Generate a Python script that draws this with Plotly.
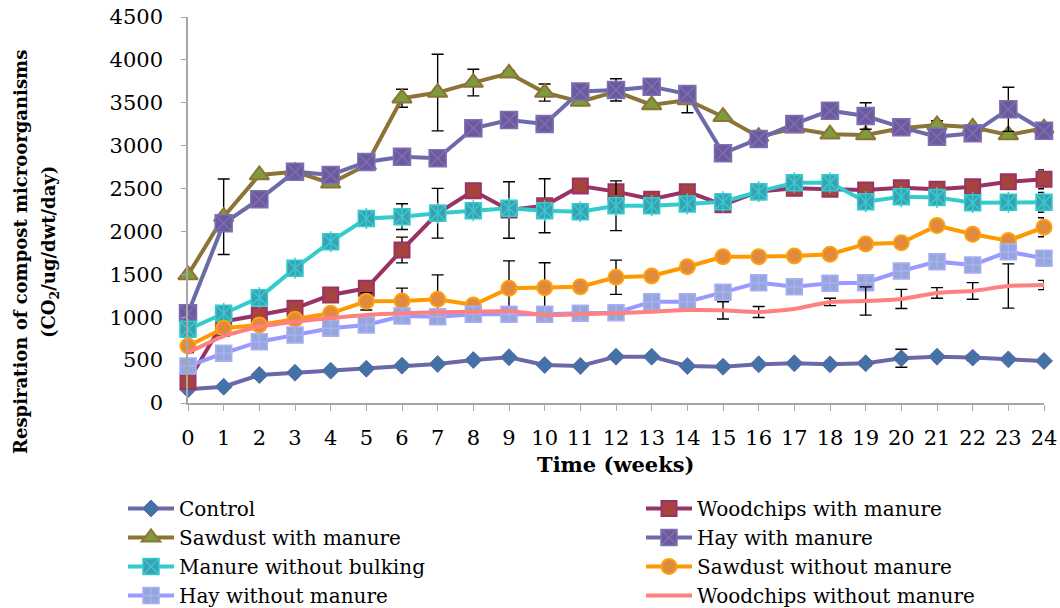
import plotly.graph_objects as go

weeks = list(range(25))
tick_labels = [str(w) for w in weeks]

control = [160, 190, 326, 353, 377, 400, 435, 455, 501, 533, 443, 431, 540, 540, 431, 423, 451, 463, 451, 463, 521, 540, 529, 509, 490]
woodchips_manure = [250, 950, 1026, 1104, 1259, 1337, 1784, 2212, 2475, 2250, 2300, 2530, 2464, 2375, 2464, 2310, 2464, 2503, 2491, 2484, 2510, 2491, 2522, 2580, 2608]
sawdust_manure = [1493, 2172, 2658, 2697, 2562, 2775, 3553, 3619, 3735, 3844, 3619, 3514, 3631, 3475, 3533, 3338, 3105, 3203, 3133, 3125, 3203, 3241, 3214, 3125, 3203]
hay_manure = [1046, 2095, 2375, 2697, 2658, 2810, 2872, 2853, 3203, 3300, 3253, 3631, 3650, 3688, 3603, 2911, 3078, 3253, 3408, 3346, 3214, 3105, 3144, 3424, 3175]
manure_no_bulking = [859, 1046, 1228, 1571, 1881, 2150, 2172, 2212, 2242, 2270, 2242, 2230, 2300, 2300, 2320, 2347, 2464, 2569, 2569, 2347, 2405, 2397, 2335, 2339, 2339]
sawdust_no_manure = [665, 871, 910, 976, 1046, 1185, 1189, 1209, 1143, 1337, 1345, 1356, 1466, 1481, 1589, 1705, 1706, 1714, 1734, 1854, 1869, 2068, 1967, 1893, 2049]
hay_no_manure = [431, 580, 715, 793, 871, 910, 1014, 1006, 1034, 1034, 1034, 1046, 1053, 1181, 1181, 1290, 1403, 1356, 1395, 1403, 1539, 1648, 1609, 1764, 1687]
woodchips_no_manure = [587, 781, 890, 948, 990, 1026, 1046, 1057, 1065, 1073, 1026, 1034, 1046, 1065, 1084, 1080, 1061, 1096, 1178, 1189, 1213, 1283, 1306, 1364, 1376]

N = None
control_err = [N]*19 + [30, 105, N, 35, N, N]
woodchips_manure_err = [N, N, N, N, N, N, 150, 290, N, 330, 315, N, N, N, N, N, N, N, N, N, N, N, N, N, 110]
sawdust_manure_err = [N, 440, N, N, N, N, 105, 447, 155, 30, 100, N, N, N, 150, N, N, N, N, N, N, 50, N, N, N]
hay_manure_err = [N, N, N, N, N, N, N, N, N, N, N, N, 130, N, N, 30, N, N, N, 155, 20, N, 20, 257, N]
manure_no_bulking_err = [N, N, N, N, N, 90, 150, N, N, N, N, N, 290, N, N, N, N, N, N, N, N, N, N, N, 115]
sawdust_no_manure_err = [N, N, N, N, N, 100, 150, 285, N, 320, 290, N, 200, N, N, N, N, N, N, N, N, N, N, N, 110]
woodchips_no_manure_err = [N]*15 + [100, 64, N, 43, 165, 112, 62, 97, 258, 54]

names = ["Control", "Woodchips with manure", "Sawdust with manure", "Hay with manure",
         "Manure without bulking", "Sawdust without manure", "Hay without manure",
         "Woodchips without manure"]

FONT = "DejaVu Serif"


def err(arr):
    return dict(type="data", array=arr, visible=True, color="black", thickness=1.4, width=6)


fig = go.Figure()

# Control
fig.add_trace(go.Scatter(x=weeks, y=control, name=names[0], mode="lines+markers", legend="legend",
                         line=dict(color="#6A68A6", width=4),
                         marker=dict(symbol="diamond", size=13, color="#4471A6",
                                     line=dict(color="#5E6AA8", width=1)),
                         error_y=err(control_err), cliponaxis=False))
# Woodchips with manure
fig.add_trace(go.Scatter(x=weeks, y=woodchips_manure, name=names[1], mode="lines+markers", legend="legend2",
                         line=dict(color="#993366", width=4),
                         marker=dict(symbol="square", size=15, color="#A6433F",
                                     line=dict(color="#993366", width=2)),
                         error_y=err(woodchips_manure_err), cliponaxis=False))
# Sawdust with manure
fig.add_trace(go.Scatter(x=weeks, y=sawdust_manure, name=names[2], mode="lines+markers", legend="legend",
                         line=dict(color="#8C7437", width=4),
                         marker=dict(symbol="triangle-up", size=17, color="#7E9B3D",
                                     line=dict(color="#8C7437", width=2)),
                         error_y=err(sawdust_manure_err), cliponaxis=False))
# Hay with manure
fig.add_trace(go.Scatter(x=weeks, y=hay_manure, name=names[3], mode="lines+markers", legend="legend2",
                         line=dict(color="#6B6BAA", width=4),
                         marker=dict(symbol="square-x", size=17, color="#6D5A9C",
                                     line=dict(color="#7C6FB2", width=1.5)),
                         error_y=err(hay_manure_err), cliponaxis=False))
# Manure without bulking
fig.add_trace(go.Scatter(x=weeks, y=manure_no_bulking, name=names[4], mode="lines+markers", legend="legend",
                         legendgroup="mwb",
                         line=dict(color="#33CCCC", width=4),
                         marker=dict(symbol="square-x", size=16, color="#3E9EB4",
                                     line=dict(color="#33CCCC", width=1.5)),
                         error_y=err(manure_no_bulking_err), cliponaxis=False))
fig.add_trace(go.Scatter(x=weeks, y=manure_no_bulking, name=names[4], mode="markers", legend="legend",
                         legendgroup="mwb", showlegend=False, hoverinfo="skip",
                         marker=dict(symbol="line-ns-open", size=15, color="#33CCCC",
                                     line=dict(color="#33CCCC", width=1.5)),
                         cliponaxis=False))
# Sawdust without manure
fig.add_trace(go.Scatter(x=weeks, y=sawdust_no_manure, name=names[5], mode="lines+markers", legend="legend2",
                         line=dict(color="#FF9900", width=4),
                         marker=dict(symbol="circle", size=15, color="#DF8A3C",
                                     line=dict(color="#FFA010", width=2)),
                         error_y=err(sawdust_no_manure_err), cliponaxis=False))
# Hay without manure
fig.add_trace(go.Scatter(x=weeks, y=hay_no_manure, name=names[6], mode="lines+markers", legend="legend",
                         line=dict(color="#9999FF", width=4),
                         marker=dict(symbol="square-cross", size=16, color="#94A8D4",
                                     line=dict(color="#ABABFF", width=1.5)),
                         cliponaxis=False))
# Woodchips without manure
fig.add_trace(go.Scatter(x=weeks, y=woodchips_no_manure, name=names[7], mode="lines", legend="legend2",
                         line=dict(color="#FF8080", width=4, shape="spline", smoothing=0.5),
                         error_y=err(woodchips_no_manure_err), cliponaxis=False))

leg_common = dict(orientation="v", yanchor="top", xanchor="left", y=(403 - 489) / 386,
                  font=dict(family=FONT, size=20), tracegroupgap=0, itemwidth=46,
                  bgcolor="rgba(0,0,0,0)")

fig.update_layout(
    width=1060, height=608,
    margin=dict(l=188, r=16, t=17, b=205, autoexpand=False),
    paper_bgcolor="white", plot_bgcolor="white",
    font=dict(family=FONT, color="black"),
    showlegend=True,
    legend=dict(x=(123 - 188) / 856, **leg_common),
    legend2=dict(x=(641 - 188) / 856, **leg_common),
    xaxis=dict(range=[0, 24], tickmode="array", tickvals=weeks, ticktext=tick_labels,
               showline=True, linecolor="#A6A6A6", linewidth=1.5, showgrid=False, zeroline=False,
               ticks="outside", ticklen=6, tickcolor="#A6A6A6", tickwidth=1.2,
               tickfont=dict(family=FONT, size=21), ticklabelstandoff=9),
    yaxis=dict(range=[0, 4500], dtick=500, tick0=0,
               showline=True, linecolor="#A6A6A6", linewidth=1.5, showgrid=False, zeroline=False,
               ticks="outside", ticklen=5, tickcolor="#A6A6A6", tickwidth=1.2,
               tickfont=dict(family=FONT, size=21), ticklabelstandoff=14),
    annotations=[
        dict(text="<b>Time (weeks)</b>", xref="paper", yref="paper", x=0.5, y=(403 - 465) / 386,
             xanchor="center", yanchor="middle", showarrow=False,
             font=dict(family=FONT, size=21)),
        dict(text="<b>Respiration of compost microorganisms</b>", xref="paper", yref="paper",
             x=(21 - 188) / 856, y=(403 - 252) / 386, xanchor="center", yanchor="middle",
             textangle=-90, showarrow=False, font=dict(family=FONT, size=18)),
        dict(text="<b>(CO<sub>2</sub>/ug/dwt/day)</b>", xref="paper", yref="paper",
             x=(50 - 188) / 856, y=(403 - 252) / 386, xanchor="center", yanchor="middle",
             textangle=-90, showarrow=False, font=dict(family=FONT, size=18)),
    ],
)

fig.write_html("out.html", config={"displayModeBar": False},
               post_script="document.body.style.margin='0';document.body.style.overflow='hidden';")
